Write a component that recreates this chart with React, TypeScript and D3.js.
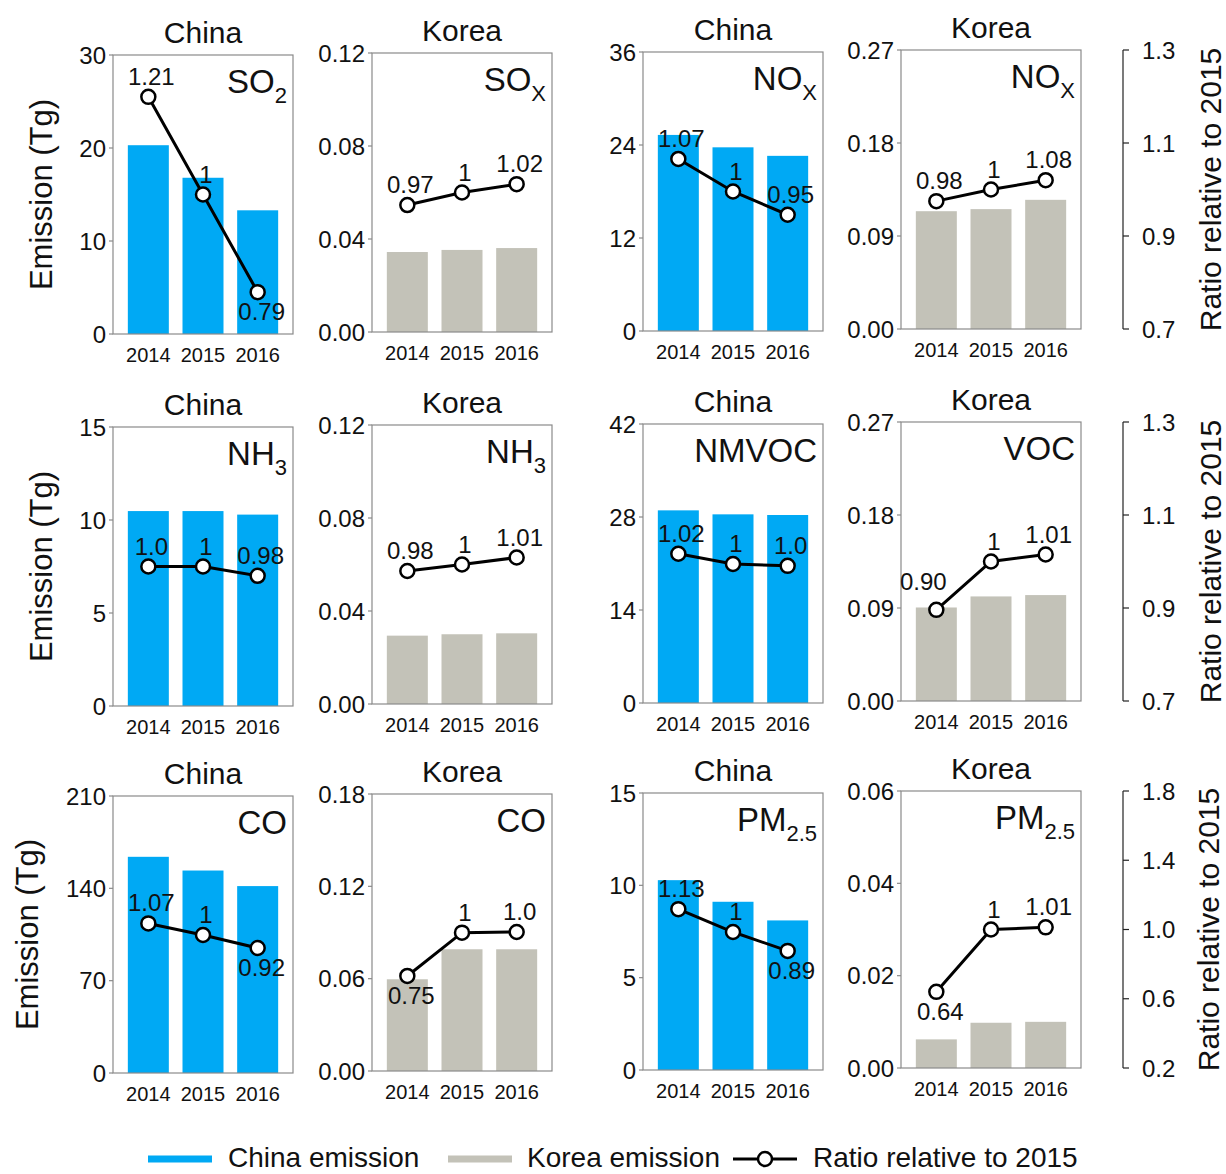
import React from "react";
import * as d3 from "d3";

const years = ["2014", "2015", "2016"];

// row 1
const chinaSO2 = [20.3, 16.8, 13.3];
const chinaSO2Ratio = [1.21, 1.0, 0.79];
const chinaSO2Labels = ["1.21", "1", "0.79"];
const koreaSOx = [0.0344, 0.0353, 0.0361];
const koreaSOxRatio = [0.973, 1.0, 1.018];
const koreaSOxLabels = ["0.97", "1", "1.02"];
const chinaNOx = [25.3, 23.7, 22.6];
const chinaNOxRatio = [1.07, 1.0, 0.95];
const chinaNOxLabels = ["1.07", "1", "0.95"];
const koreaNOx = [0.114, 0.116, 0.125];
const koreaNOxRatio = [0.975, 1.0, 1.02];
const koreaNOxLabels = ["0.98", "1", "1.08"];

// row 2
const chinaNH3 = [10.48, 10.48, 10.29];
const chinaNH3Ratio = [1.0, 1.0, 0.98];
const chinaNH3Labels = ["1.0", "1", "0.98"];
const koreaNH3 = [0.0294, 0.03, 0.0304];
const koreaNH3Ratio = [0.986, 1.0, 1.015];
const koreaNH3Labels = ["0.98", "1", "1.01"];
const chinaNMVOC = [29.0, 28.4, 28.3];
const chinaNMVOCRatio = [1.021, 0.999, 0.995];
const chinaNMVOCLabels = ["1.02", "1", "1.0"];
const koreaVOC = [0.0905, 0.1012, 0.1025];
const koreaVOCRatio = [0.896, 1.0, 1.015];
const koreaVOCLabels = ["0.90", "1", "1.01"];

// row 3
const chinaCO = [163.9, 153.5, 141.7];
const chinaCORatio = [1.064, 0.997, 0.922];
const chinaCOLabels = ["1.07", "1", "0.92"];
const koreaCO = [0.0596, 0.0791, 0.0791];
const koreaCORatio = [0.749, 0.999, 1.003];
const koreaCOLabels = ["0.75", "1", "1.0"];
const chinaPM25 = [10.28, 9.11, 8.1];
const chinaPM25Ratio = [1.129, 0.997, 0.888];
const chinaPM25Labels = ["1.13", "1", "0.89"];
const koreaPM25 = [0.0062, 0.0098, 0.01];
const koreaPM25Ratio = [0.64, 1.0, 1.0125];
const koreaPM25Labels = ["0.64", "1", "1.01"];

const emissionTicks = [
  [[0, 10, 20, 30], [0, 0.04, 0.08, 0.12], [0, 12, 24, 36], [0, 0.09, 0.18, 0.27]],
  [[0, 5, 10, 15], [0, 0.04, 0.08, 0.12], [0, 14, 28, 42], [0, 0.09, 0.18, 0.27]],
  [[0, 70, 140, 210], [0, 0.06, 0.12, 0.18], [0, 5, 10, 15], [0, 0.02, 0.04, 0.06]],
];
const ratioTicks = [
  [0.7, 0.9, 1.1, 1.3],
  [0.7, 0.9, 1.1, 1.3],
  [0.2, 0.6, 1.0, 1.4, 1.8],
];

type Panel = {
  country: string;
  name: string;
  sub: string;
  values: number[];
  ratio: number[];
  labels: string[];
  place: string[];
};

const panels: Panel[][] = [
  [
    { country: "China", name: "SO", sub: "2", values: chinaSO2, ratio: chinaSO2Ratio, labels: chinaSO2Labels, place: ["above", "above", "below"] },
    { country: "Korea", name: "SO", sub: "X", values: koreaSOx, ratio: koreaSOxRatio, labels: koreaSOxLabels, place: ["above", "above", "above"] },
    { country: "China", name: "NO", sub: "X", values: chinaNOx, ratio: chinaNOxRatio, labels: chinaNOxLabels, place: ["above", "above", "above"] },
    { country: "Korea", name: "NO", sub: "X", values: koreaNOx, ratio: koreaNOxRatio, labels: koreaNOxLabels, place: ["above", "above", "above"] },
  ],
  [
    { country: "China", name: "NH", sub: "3", values: chinaNH3, ratio: chinaNH3Ratio, labels: chinaNH3Labels, place: ["above", "above", "above"] },
    { country: "Korea", name: "NH", sub: "3", values: koreaNH3, ratio: koreaNH3Ratio, labels: koreaNH3Labels, place: ["above", "above", "above"] },
    { country: "China", name: "NMVOC", sub: "", values: chinaNMVOC, ratio: chinaNMVOCRatio, labels: chinaNMVOCLabels, place: ["above", "above", "above"] },
    { country: "Korea", name: "VOC", sub: "", values: koreaVOC, ratio: koreaVOCRatio, labels: koreaVOCLabels, place: ["aboveLeft", "above", "above"] },
  ],
  [
    { country: "China", name: "CO", sub: "", values: chinaCO, ratio: chinaCORatio, labels: chinaCOLabels, place: ["above", "above", "below"] },
    { country: "Korea", name: "CO", sub: "", values: koreaCO, ratio: koreaCORatio, labels: koreaCOLabels, place: ["below", "above", "above"] },
    { country: "China", name: "PM", sub: "2.5", values: chinaPM25, ratio: chinaPM25Ratio, labels: chinaPM25Labels, place: ["above", "above", "below"] },
    { country: "Korea", name: "PM", sub: "2.5", values: koreaPM25, ratio: koreaPM25Ratio, labels: koreaPM25Labels, place: ["below", "above", "above"] },
  ],
];

// layout
const colLeft = [113, 372, 643, 901];
const colDrift = [0, 2, 3, 5];
const rowTop = [55, 427, 796];
const rowHeight = [279, 279, 277];
const panelWidth = 180;
const ratioAxisX = 1123;
const yTitleX = [41, 41, 27];

const chinaColor = "#00a9f4";
const koreaColor = "#c3c2b8";
const boxColor = "#8a8a8a";
const textColor = "#111";
const font = "'Liberation Sans', Arial, sans-serif";

const labelOffset: Record<string, [number, number]> = {
  above: [3, -12],
  below: [4, 28],
  aboveLeft: [-13, -20],
};

function PanelView({ p, ri, ci }: { p: Panel; ri: number; ci: number }) {
  const left = colLeft[ci];
  const top = rowTop[ri] - colDrift[ci];
  const bottom = top + rowHeight[ri];
  const right = left + panelWidth;
  const ticks = emissionTicks[ri][ci];
  const rt = ratioTicks[ri];
  const isKorea = p.country === "Korea";
  const fmt = isKorea ? d3.format(".2f") : d3.format("d");

  const x = d3
    .scaleBand()
    .domain(years)
    .range([left + 8, right - 8])
    .paddingInner(0.25)
    .paddingOuter(0.125);
  const y = d3.scaleLinear().domain([0, ticks[ticks.length - 1]]).range([bottom, top]);
  const r = d3.scaleLinear().domain([rt[0], rt[rt.length - 1]]).range([bottom, top]);
  const cx = (i: number) => (x(years[i]) as number) + x.bandwidth() / 2;
  const line = d3
    .line<number>()
    .x((_, i) => cx(i))
    .y((d) => r(d));

  return (
    <g>
      <text x={(left + right) / 2} y={top - 12} textAnchor="middle" fontSize={30} fill={textColor}>
        {p.country}
      </text>
      {p.values.map((v, i) => (
        <rect
          key={i}
          x={x(years[i])}
          y={y(v)}
          width={x.bandwidth()}
          height={bottom - y(v)}
          fill={isKorea ? koreaColor : chinaColor}
        />
      ))}
      <rect x={left} y={top} width={panelWidth} height={bottom - top} fill="none" stroke={boxColor} strokeWidth={1.2} />
      {ticks.map((t) => (
        <g key={t}>
          <line x1={left - 4} x2={left} y1={y(t)} y2={y(t)} stroke={boxColor} strokeWidth={1.2} />
          <text x={left - 7} y={y(t)} dy="0.36em" textAnchor="end" fontSize={24} fill={textColor}>
            {fmt(t)}
          </text>
        </g>
      ))}
      {years.map((yr, i) => (
        <text key={yr} x={cx(i)} y={bottom + 28} textAnchor="middle" fontSize={20} fill={textColor}>
          {yr}
        </text>
      ))}
      <text x={right - 6} y={top + 38} textAnchor="end" fontSize={33} fill={textColor}>
        <tspan>{p.name}</tspan>
        {p.sub && (
          <tspan dy={10} fontSize={22}>
            {p.sub}
          </tspan>
        )}
      </text>
      <path d={line(p.ratio) || ""} fill="none" stroke="#000" strokeWidth={3} />
      {p.ratio.map((v, i) => (
        <circle key={i} cx={cx(i)} cy={r(v)} r={7} fill="#fff" stroke="#000" strokeWidth={2.5} />
      ))}
      {p.ratio.map((v, i) => {
        const [dx, dy] = labelOffset[p.place[i]];
        return (
          <text key={i} x={cx(i) + dx} y={r(v) + dy} textAnchor="middle" fontSize={24} fill={textColor}>
            {p.labels[i]}
          </text>
        );
      })}
    </g>
  );
}

function RatioAxis({ ri }: { ri: number }) {
  const top = rowTop[ri] - colDrift[3];
  const bottom = top + rowHeight[ri];
  const rt = ratioTicks[ri];
  const r = d3.scaleLinear().domain([rt[0], rt[rt.length - 1]]).range([bottom, top]);
  return (
    <g>
      <line x1={ratioAxisX} x2={ratioAxisX} y1={top} y2={bottom} stroke="#222" strokeWidth={1.2} />
      {rt.map((t) => (
        <g key={t}>
          <line x1={ratioAxisX} x2={ratioAxisX + 6} y1={r(t)} y2={r(t)} stroke="#222" strokeWidth={1.2} />
          <text x={ratioAxisX + 19} y={r(t)} dy="0.36em" fontSize={24} fill={textColor}>
            {d3.format(".1f")(t)}
          </text>
        </g>
      ))}
      <text
        transform={`translate(${ri === 2 ? 1208 : 1210}, ${(top + bottom) / 2}) rotate(-90)`}
        textAnchor="middle"
        dy="0.36em"
        fontSize={30}
        fill={textColor}
      >
        Ratio relative to 2015
      </text>
    </g>
  );
}

export default function App() {
  const legendY = 1157;
  return (
    <svg
      width={1226}
      height={1174}
      style={{ position: "absolute", left: 0, top: 0, background: "#fff" }}
      fontFamily={font}
    >
      {panels.map((row, ri) => (
        <g key={ri}>
          <text
            transform={`translate(${yTitleX[ri]}, ${rowTop[ri] + rowHeight[ri] / 2}) rotate(-90)`}
            textAnchor="middle"
            dy="0.36em"
            fontSize={31}
            fill={textColor}
          >
            Emission (Tg)
          </text>
          {row.map((p, ci) => (
            <PanelView key={ci} p={p} ri={ri} ci={ci} />
          ))}
          <RatioAxis ri={ri} />
        </g>
      ))}
      <g fontSize={28} fill={textColor}>
        <line x1={148} x2={212} y1={legendY + 2} y2={legendY + 2} stroke={chinaColor} strokeWidth={7} />
        <text x={228} y={legendY} dy="0.36em">China emission</text>
        <line x1={448} x2={512} y1={legendY + 2} y2={legendY + 2} stroke={koreaColor} strokeWidth={7} />
        <text x={527} y={legendY} dy="0.36em">Korea emission</text>
        <line x1={733} x2={797} y1={legendY + 2} y2={legendY + 2} stroke="#000" strokeWidth={3} />
        <circle cx={765} cy={legendY + 2} r={7} fill="#fff" stroke="#000" strokeWidth={2.5} />
        <text x={813} y={legendY} dy="0.36em">Ratio relative to 2015</text>
      </g>
    </svg>
  );
}
